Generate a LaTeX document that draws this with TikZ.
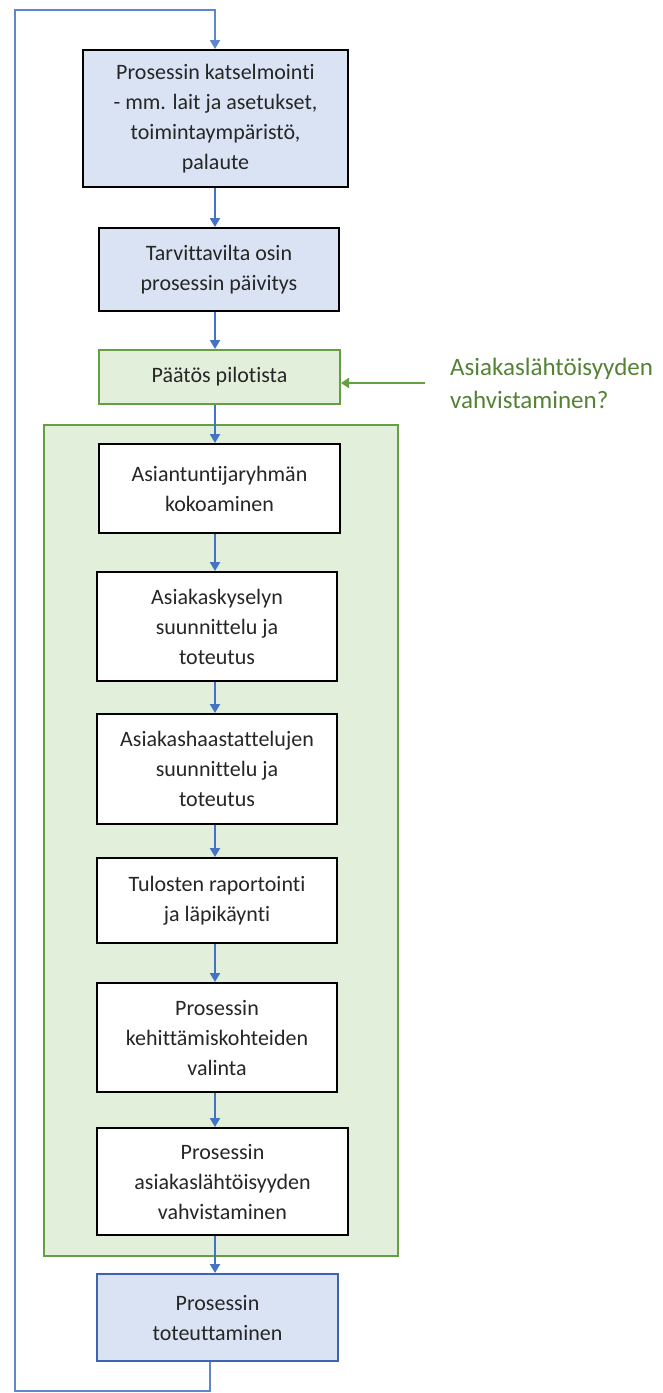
\documentclass[tikz,border=0pt]{standalone}
\usepackage{fontspec}
\setmainfont{Carlito}[Ligatures={NoCommon}]
\usetikzlibrary{arrows.meta}
\definecolor{blueline}{HTML}{4472C4}
\definecolor{bluefill}{HTML}{DAE3F3}
\definecolor{blueborder}{HTML}{3D64B0}
\definecolor{greenfill}{HTML}{E2EFDA}
\definecolor{greenline}{HTML}{64A043}
\definecolor{labelgreen}{HTML}{548235}
\definecolor{txt}{HTML}{262626}
\tikzset{
  boxbase/.style={line width=2pt, align=center, inner sep=0pt, text=txt,
    font=\fontsize{22}{30}\selectfont},
  bluebox/.style={boxbase, draw=black, fill=bluefill},
  greenbox/.style={boxbase, draw=greenline, fill=greenfill},
  whitebox/.style={boxbase, draw=black, fill=white},
  finalbox/.style={boxbase, draw=blueborder, fill=bluefill},
  arr/.style={draw=blueline, line width=2pt, -{Triangle[width=10pt,length=9pt]}},
  loopline/.style={draw=blueline!85!white, line width=2pt, -{Triangle[width=10pt,length=9pt]}},
  garr/.style={draw=greenline, line width=2pt, -{Triangle[width=10pt,length=8pt]}}
}
\begin{document}
\begin{tikzpicture}[x=1pt,y=-1pt]
\useasboundingbox (0,0) rectangle (662,1393);
\coordinate (ax) at (215,0);
\node[greenbox, minimum width=354pt, minimum height=831pt] (cont) at (221,840.5) {};
\node[bluebox, minimum width=265pt, minimum height=137pt] (b1) at (215.5,118.5) {Prosessin katselmointi\\- mm. lait ja asetukset,\\toimintaympäristö,\\palaute};
\node[bluebox, minimum width=240pt, minimum height=83pt] (b2) at (219,269.5) {Tarvittavilta osin\\prosessin päivitys};
\node[greenbox, minimum width=241pt, minimum height=54pt] (b3) at (219.5,377) {Päätös pilotista};
\node[whitebox, minimum width=241pt, minimum height=89pt] (i1) at (219.5,488.5) {Asiantuntijaryhmän\\kokoaminen};
\node[whitebox, minimum width=240pt, minimum height=109pt] (i2) at (217,626.5) {Asiakaskyselyn\\suunnittelu ja\\toteutus};
\node[whitebox, minimum width=240pt, minimum height=110pt] (i3) at (217,769) {Asiakashaastattelujen\\suunnittelu ja\\toteutus};
\node[whitebox, minimum width=240pt, minimum height=85pt] (i4) at (217,900.5) {Tulosten raportointi\\ja läpikäynti};
\node[whitebox, minimum width=240pt, minimum height=109pt] (i5) at (217,1037.5) {Prosessin\\kehittämiskohteiden\\valinta};
\node[whitebox, minimum width=251pt, minimum height=107pt] (i6) at (222.5,1181.5) {Prosessin\\asiakaslähtöisyyden\\vahvistaminen};
\node[finalbox, minimum width=241pt, minimum height=87pt] (b9) at (217.5,1317.5) {Prosessin\\toteuttaminen};
\node[anchor=west, align=left, inner sep=0pt, text=labelgreen, font=\fontsize{25}{33}\selectfont] (lab) at (450,383) {Asiakaslähtöisyyden\\vahvistaminen?};
\coordinate (gstart) at (425,383);
\draw[garr] (gstart) -- (gstart -| b3.east);
\draw[arr] (b1.south -| ax) -- (b2.north -| ax);
\draw[arr] (b2.south -| ax) -- (b3.north -| ax);
\draw[arr] (b3.south -| ax) -- (i1.north -| ax);
\draw[arr] (i1.south -| ax) -- (i2.north -| ax);
\draw[arr] (i2.south -| ax) -- (i3.north -| ax);
\draw[arr] (i3.south -| ax) -- (i4.north -| ax);
\draw[arr] (i4.south -| ax) -- (i5.north -| ax);
\draw[arr] (i5.south -| ax) -- (i6.north -| ax);
\draw[arr] (i6.south -| ax) -- (b9.north -| ax);
\coordinate (loopB) at (15,1391);
\coordinate (loopT) at (15,10);
\coordinate (bx) at (210,0);
\draw[loopline] (b9.south -| bx) |- (loopB) -- (loopT) -| (b1.north -| ax);
\end{tikzpicture}
\end{document}
